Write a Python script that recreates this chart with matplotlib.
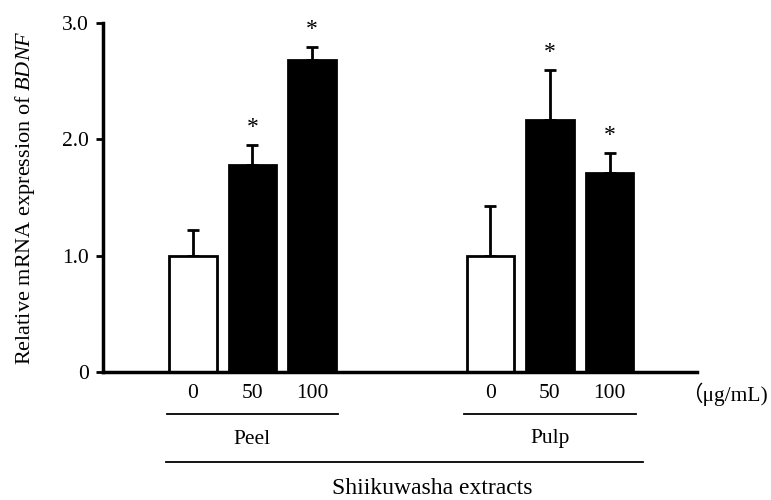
import matplotlib
matplotlib.use("Agg")
import matplotlib.pyplot as plt
import matplotlib.transforms as mtransforms
from matplotlib.lines import Line2D

plt.rcParams["font.family"] = ["Liberation Serif", "Noto Sans CJK JP", "DejaVu Sans"]
plt.rcParams["mathtext.fontset"] = "custom"
plt.rcParams["mathtext.rm"] = "Liberation Serif"
plt.rcParams["mathtext.it"] = "Liberation Serif:italic"

# ---------- data ----------
groups = ["Peel", "Pulp"]
doses = ["0", "50", "100"]
means = [1.00, 1.78, 2.68, 1.00, 2.17, 1.71]
errors = [0.22, 0.17, 0.11, 0.43, 0.43, 0.17]
significant = [False, True, True, False, True, True]
positions = [0, 1, 2, 5, 6, 7]
colors = ["white", "black", "black", "white", "black", "black"]

FS = 15.5

fig = plt.figure(figsize=(7.71, 5.0), dpi=100)
ax = fig.add_axes([103 / 771, 128 / 500, (697 - 103) / 771, (372 - 23) / 500])

ax.bar(positions, means, width=0.8, color=colors, edgecolor="black",
       linewidth=2, zorder=2)
ax.errorbar(positions, means, yerr=[[0] * len(errors), errors], fmt="none",
            ecolor="black", elinewidth=2, capsize=4, capthick=2, zorder=1)

for x, m, e, s in zip(positions, means, errors, significant):
    if s:
        ax.annotate("*", (x, m + e), xytext=(0, 5), textcoords="offset points",
                    ha="center", va="bottom", fontsize=17)

ax.set_xlim(-1.51, 8.47)
ax.set_ylim(0, 3.0)
ax.set_yticks([0, 1, 2, 3])
ax.set_yticklabels(["0", "1.0", "2.0", "3.0"], fontsize=FS)
ax.set_xticks([])
for side in ["top", "right"]:
    ax.spines[side].set_visible(False)
for side in ["left", "bottom"]:
    ax.spines[side].set_linewidth(2.5)
ax.tick_params(axis="y", direction="out", length=5, width=2, pad=5)
ax.set_ylabel("Relative mRNA expression of $\\mathit{BDNF}$", fontsize=16, labelpad=18)

# labels under the axis
trans = mtransforms.blended_transform_factory(ax.transData, fig.transFigure)
for gi, g in enumerate(groups):
    xs = positions[gi * 3:(gi + 1) * 3]
    for x, d in zip(xs, doses):
        ax.text(x, 0.212, d, transform=trans, ha="center", va="center",
                fontsize=FS, clip_on=False)
    fig.add_artist(Line2D([xs[0] - 0.44, xs[-1] + 0.44], [0.172, 0.172],
                          transform=trans, color="black", linewidth=1.3))
    ax.text(xs[1], 0.122, g, transform=trans, ha="center", va="center",
            fontsize=FS, clip_on=False)

fig.add_artist(Line2D([positions[0] - 0.45, positions[-1] + 0.56], [0.076, 0.076],
                      transform=trans, color="black", linewidth=1.3))
ax.text(4.03, 0.022, "Shiikuwasha extracts", transform=trans, ha="center",
        va="center", fontsize=17, clip_on=False)
fig.text(768 / 771, 0.212, "（μg/mL)", ha="right", va="center", fontsize=FS)

fig.savefig("out.png", dpi=100)
